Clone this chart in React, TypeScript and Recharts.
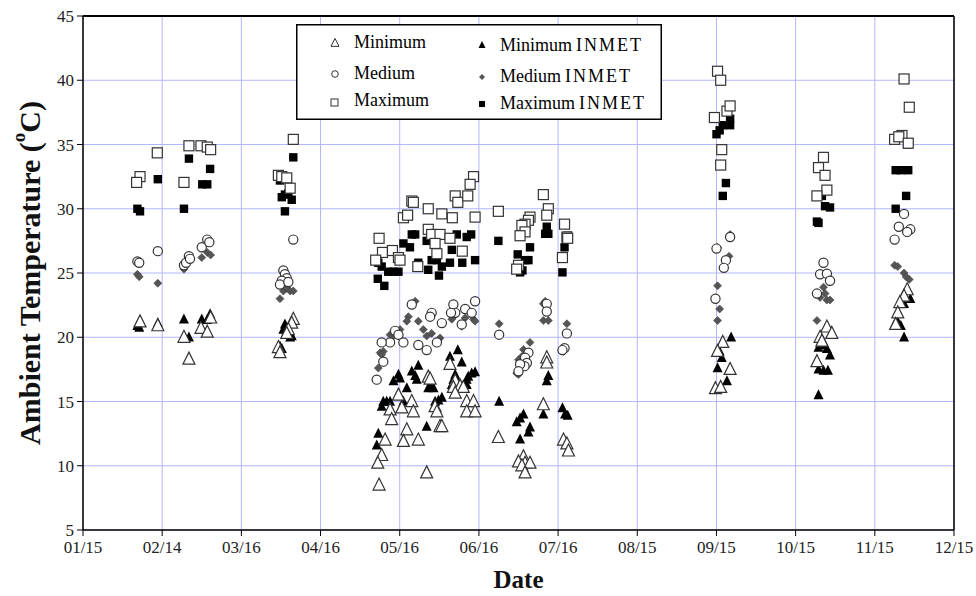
import React from "react";
import { ScatterChart, Scatter, XAxis, YAxis, CartesianGrid, Legend, Label, ReferenceLine } from "recharts";

// x = days after 01/15, y = temperature in °C
const TICK_LABELS = ["01/15", "02/14", "03/16", "04/16", "05/16", "06/16", "07/16", "08/15", "09/15", "10/15", "11/15", "12/15"];
const X_MAX = 333;
const X_TICKS = TICK_LABELS.map((_, i) => (i * X_MAX) / (TICK_LABELS.length - 1));
const Y_TICKS = [5, 10, 15, 20, 25, 30, 35, 40, 45];

const MINIMUM: [number, number][] = [
  [21.8, 21.2], [28.6, 20.9], [38.6, 20.0], [45.1, 20.7], [47.5, 20.4], [48.8, 21.5], [40.5, 18.3],
  [80.4, 21.4], [79.8, 21.1], [78.5, 20.6], [77.9, 20.3], [74.7, 19.2], [75.3, 18.8],
  [140.3, 17.9], [132.0, 16.9], [132.7, 16.75], [142.3, 16.6], [141.6, 16.1], [144.2, 16.2], [145.4, 16.1],
  [142.3, 15.65], [120.6, 15.5], [125.7, 15.0], [121.9, 14.5], [117.4, 14.35], [118.0, 13.6], [126.3, 14.2],
  [134.6, 14.6], [135.3, 14.2], [146.7, 15.0], [149.3, 15.0], [146.7, 14.2], [149.9, 14.2], [136.5, 13.05],
  [137.2, 13.05], [123.8, 12.8], [122.5, 11.9], [128.2, 12.0], [115.5, 12.0], [114.2, 10.8], [112.7, 10.2],
  [131.4, 9.45], [113.2, 8.5],
  [158.8, 12.2], [177.3, 18.4], [177.3, 18.0], [176.0, 14.75], [183.7, 12.0], [185.0, 11.7], [185.6, 11.15],
  [168.4, 10.7], [166.5, 10.3], [169.0, 10.2], [170.9, 10.2], [167.8, 10.0], [169.0, 9.45],
  [244.6, 19.6], [242.6, 18.9], [247.4, 17.5], [241.8, 16.0], [243.8, 16.1],
  [284.4, 20.8], [286.3, 20.3], [281.8, 20.0], [282.5, 19.7], [280.6, 18.1],
  [315.1, 23.7], [313.9, 23.2], [312.3, 22.7], [311.5, 21.9], [310.7, 21.0],
];

const MINIMUM_INMET: [number, number][] = [
  [20.8, 20.9], [21.5, 20.75], [28.6, 21.1], [38.6, 21.4], [40.5, 20.0], [45.4, 21.4], [47.5, 21.35], [48.6, 21.8],
  [77.2, 21.0], [76.6, 20.6], [79.8, 20.1], [79.2, 20.0], [75.3, 19.3], [76.0, 19.1],
  [143.3, 19.0], [144.8, 18.05], [140.3, 18.5], [128.2, 17.8], [125.7, 17.35], [127.0, 17.0], [127.6, 16.7],
  [120.6, 17.1], [118.7, 16.6], [121.2, 16.8], [123.8, 16.05], [132.7, 16.2], [134.0, 16.05], [132.0, 16.05],
  [142.3, 17.1], [141.6, 16.7], [141.0, 16.3], [143.5, 16.5], [146.7, 16.7], [147.3, 16.95], [148.6, 17.2],
  [149.9, 17.3], [146.7, 16.3], [114.8, 15.0], [116.1, 15.0], [117.4, 15.0], [114.2, 14.6], [122.5, 15.0],
  [134.6, 15.0], [135.9, 15.1], [137.2, 15.3], [131.4, 13.05], [112.9, 12.5], [112.3, 11.6],
  [159.1, 15.0], [177.9, 17.0], [177.3, 16.6], [176.0, 14.0], [168.4, 14.0], [167.1, 13.7], [165.8, 13.4],
  [170.9, 13.0], [170.3, 12.6], [167.1, 12.05], [183.3, 14.5], [184.3, 14.0], [185.3, 13.9],
  [247.8, 20.0], [243.4, 18.9], [244.2, 18.4], [242.6, 17.6], [246.2, 16.6],
  [281.2, 19.2], [283.1, 19.4], [284.4, 19.1], [285.6, 18.6], [281.2, 17.5], [283.1, 17.4], [284.8, 17.4], [281.2, 15.5],
  [316.3, 23.0], [313.9, 22.6], [310.3, 21.0], [312.7, 20.9], [313.9, 20.0], [311.5, 21.2],
];

const MEDIUM: [number, number][] = [
  [20.8, 25.9], [21.5, 25.8], [28.6, 26.7], [38.6, 25.6], [39.4, 25.8], [40.5, 26.3], [40.9, 26.1], [45.4, 27.0],
  [47.5, 27.6], [48.3, 27.4],
  [80.4, 27.6], [76.6, 25.2], [77.2, 24.9], [77.9, 24.6], [76.0, 24.4], [75.3, 24.1], [78.5, 24.3],
  [125.7, 22.55], [133.3, 21.9], [132.7, 21.6], [137.2, 21.1], [141.6, 22.55], [142.3, 21.9], [146.1, 22.2],
  [149.9, 22.8], [148.6, 21.9], [144.8, 21.0], [140.7, 21.9], [119.3, 20.5], [120.6, 20.2], [122.5, 19.6],
  [117.4, 19.6], [114.2, 19.6], [128.2, 19.4], [131.4, 19.0], [135.3, 19.6], [114.8, 18.1], [112.3, 16.7],
  [177.3, 22.6], [177.3, 22.0], [159.1, 20.2], [185.0, 20.3], [170.3, 18.8], [169.0, 18.4], [169.7, 18.0],
  [168.8, 17.75], [167.1, 17.9], [166.5, 17.35], [184.1, 19.15], [183.3, 19.0],
  [247.4, 27.8], [242.2, 26.9], [245.8, 26.0], [245.0, 25.4], [241.8, 23.0],
  [283.1, 25.8], [281.8, 24.9], [284.4, 24.95], [285.6, 24.4], [280.6, 23.4],
  [313.9, 29.6], [311.9, 28.6], [316.3, 28.4], [315.1, 28.2], [310.3, 27.6],
];

const MEDIUM_INMET: [number, number][] = [
  [20.8, 24.9], [21.5, 24.7], [28.6, 24.2], [38.6, 25.3], [40.5, 26.0], [45.4, 26.2], [47.5, 26.6], [48.8, 26.4],
  [76.6, 23.6], [77.9, 23.8], [79.2, 23.6], [80.4, 23.6], [75.3, 23.0],
  [127.0, 22.8], [128.2, 21.25], [124.4, 21.6], [123.8, 21.25], [130.1, 20.6], [131.4, 20.1], [133.3, 20.3],
  [117.4, 20.2], [118.7, 20.1], [121.2, 20.6], [113.6, 18.8], [114.8, 18.9], [114.2, 18.65], [112.9, 17.6],
  [136.5, 19.95], [135.9, 19.8], [144.8, 20.85], [146.1, 21.5], [148.0, 22.0], [149.3, 21.4], [149.9, 21.25],
  [141.6, 21.6], [141.0, 21.4],
  [176.7, 22.8], [176.0, 22.6], [176.0, 21.3], [177.9, 21.3], [159.1, 21.05], [185.0, 21.05], [170.9, 19.6],
  [168.4, 19.05], [169.7, 18.65], [167.8, 18.5], [166.5, 18.25], [165.8, 17.2], [166.5, 17.1], [183.7, 18.9],
  [247.4, 28.0], [242.6, 27.0], [247.0, 26.3], [242.6, 24.0], [243.4, 22.2], [242.6, 21.3],
  [283.1, 23.9], [283.7, 23.4], [281.8, 23.1], [284.4, 22.9], [285.6, 22.9], [280.6, 21.3],
  [310.3, 25.6], [311.5, 25.5], [313.9, 25.0], [314.7, 24.7], [315.9, 24.5],
];

const MAXIMUM: [number, number][] = [
  [28.4, 34.35], [21.8, 32.5], [20.5, 32.05], [40.5, 34.9], [45.1, 34.9], [47.5, 34.8], [48.8, 34.6], [38.6, 32.05],
  [80.4, 35.4], [74.7, 32.6], [76.0, 32.5], [77.9, 32.4], [79.2, 31.6],
  [149.3, 32.5], [148.0, 31.9], [142.3, 31.0], [143.3, 30.5], [147.1, 31.0], [125.7, 30.6], [126.3, 30.5],
  [132.0, 30.0], [122.5, 29.3], [124.1, 29.5], [137.2, 29.6], [141.2, 29.3], [149.9, 29.35], [113.2, 27.7],
  [132.0, 28.4], [133.3, 28.0], [136.5, 28.0], [134.6, 27.3], [140.3, 27.7], [114.5, 26.6], [118.3, 26.75],
  [111.9, 26.0], [120.6, 26.2], [121.2, 26.0], [135.3, 26.5], [145.0, 26.7], [128.0, 25.5],
  [158.8, 29.8], [176.0, 31.1], [177.9, 30.0], [177.3, 29.5], [170.9, 29.35], [170.3, 29.1], [169.0, 28.8],
  [167.8, 28.7], [169.0, 28.2], [167.1, 27.9], [184.1, 28.8], [185.0, 27.8], [185.3, 27.7], [183.3, 26.2],
  [166.5, 25.6], [165.8, 25.3],
  [242.6, 40.7], [243.8, 40.0], [241.4, 37.1], [246.2, 37.6], [247.4, 38.0], [244.2, 34.6], [243.8, 33.4],
  [283.1, 34.0], [281.2, 33.2], [283.7, 32.6], [284.4, 31.45], [280.6, 31.0],
  [313.9, 40.1], [315.9, 37.9], [313.1, 35.7], [310.3, 35.4], [311.9, 35.6], [315.5, 35.1],
];

const MAXIMUM_INMET: [number, number][] = [
  [20.8, 30.0], [21.8, 29.8], [28.6, 32.3], [40.5, 33.9], [38.6, 30.0], [48.6, 33.1], [45.6, 31.9], [47.5, 31.9],
  [80.4, 34.0], [75.3, 32.2], [76.0, 30.9], [77.2, 31.1], [78.5, 31.2], [79.8, 30.7], [77.2, 29.8],
  [127.0, 28.0], [125.7, 28.0], [131.4, 27.5], [122.5, 27.3], [125.0, 27.0], [142.9, 28.0], [146.7, 27.8],
  [148.4, 28.0], [141.0, 26.8], [112.9, 25.8], [114.2, 25.5], [116.7, 25.1], [118.7, 25.1], [120.6, 25.1],
  [128.2, 25.8], [133.3, 26.0], [135.3, 26.0], [137.2, 25.5], [132.0, 25.25], [140.3, 25.8], [145.0, 25.8],
  [149.9, 26.0], [112.7, 24.55], [115.2, 24.0], [136.1, 24.8],
  [158.8, 27.5], [177.3, 28.6], [176.7, 28.05], [177.9, 28.05], [170.9, 27.0], [185.3, 27.9], [184.1, 27.0],
  [166.2, 26.45], [169.0, 26.0], [170.3, 26.0], [167.1, 25.05], [168.0, 25.2], [183.3, 25.05],
  [242.2, 35.8], [243.4, 36.1], [244.6, 36.5], [247.4, 37.0], [247.4, 36.5], [245.8, 32.0], [244.6, 31.0],
  [282.5, 31.0], [283.7, 30.2], [285.6, 30.1], [280.6, 29.0], [281.2, 28.9],
  [310.7, 33.0], [312.7, 33.0], [315.5, 33.0], [314.7, 31.0], [310.7, 30.0], [315.1, 35.0],
];

const toPoints = (arr: [number, number][]) => arr.map(([x, y]) => ({ x, y }));

const FONT = "'Liberation Serif', 'Times New Roman', serif";

const triangle = (cx: number, cy: number, s: number) =>
  `M${cx},${cy - s * 0.58} L${cx + s / 2},${cy + s * 0.42} L${cx - s / 2},${cy + s * 0.42} Z`;
const diamond = (cx: number, cy: number, s: number) =>
  `M${cx},${cy - s / 2} L${cx + s / 2},${cy} L${cx},${cy + s / 2} L${cx - s / 2},${cy} Z`;

const OpenTriangle = (p: any) => <path d={triangle(p.cx, p.cy, 12)} fill="#fff" stroke="#333" strokeWidth={1.2} />;
const FilledTriangle = (p: any) => <path d={triangle(p.cx, p.cy, 10)} fill="#000" />;
const OpenCircle = (p: any) => <circle cx={p.cx} cy={p.cy} r={4.6} fill="#fff" stroke="#333" strokeWidth={1.2} />;
const GrayDiamond = (p: any) => <path d={diamond(p.cx, p.cy, 8)} fill="#555" stroke="#444" strokeWidth={0.6} />;
const OpenSquare = (p: any) => (
  <rect x={p.cx - 5} y={p.cy - 5} width={10} height={10} fill="#fff" stroke="#333" strokeWidth={1.2} />
);
const FilledSquare = (p: any) => <rect x={p.cx - 4.2} y={p.cy - 4.2} width={8.4} height={8.4} fill="#000" />;

const Inmet = () => (
  <tspan dx={4} letterSpacing={2}>
    INMET
  </tspan>
);

const LegendBox = () => (
  <svg width={366} height={96} style={{ display: "block" }}>
    <rect x={0.75} y={0.75} width={364.5} height={94.5} fill="#fff" stroke="#000" strokeWidth={1.5} />
    <g fontFamily={FONT} fontSize={18} fill="#000">
      <path d={triangle(39, 19, 8)} fill="#fff" stroke="#333" />
      <text x={58} y={18} dominantBaseline="central">Minimum</text>
      <circle cx={39} cy={50} r={3.3} fill="#fff" stroke="#333" />
      <text x={58} y={49} dominantBaseline="central">Medium</text>
      <rect x={35} y={75} width={7} height={7} fill="#fff" stroke="#333" />
      <text x={58} y={76} dominantBaseline="central">Maximum</text>
      <path d={triangle(186, 21, 7)} fill="#000" />
      <text x={204} y={21} dominantBaseline="central">Minimum<Inmet /></text>
      <path d={diamond(186, 53, 6)} fill="#555" />
      <text x={204} y={52} dominantBaseline="central">Medium<Inmet /></text>
      <rect x={183} y={77} width={6} height={6} fill="#000" />
      <text x={204} y={79} dominantBaseline="central">Maximum<Inmet /></text>
    </g>
  </svg>
);

const YTitle = (props: any) => {
  const vb = props.viewBox || {};
  const cx = 29;
  const cy = (vb.y ?? 16) + (vb.height ?? 514) / 2;
  return (
    <text
      x={cx}
      y={cy}
      transform={`rotate(-90 ${cx} ${cy})`}
      textAnchor="middle"
      dominantBaseline="central"
      fontFamily={FONT}
      fontWeight="bold"
      fontSize={30}
      fill="#111"
    >
      Ambient Temperature (<tspan dy={-11} fontSize={19}>o</tspan>
      <tspan dy={11}>C)</tspan>
    </text>
  );
};

const XTitle = (props: any) => {
  const vb = props.viewBox || {};
  const cx = (vb.x ?? 83) + (vb.width ?? 871) / 2;
  return (
    <text x={cx} y={579} textAnchor="middle" dominantBaseline="central" fontFamily={FONT} fontWeight="bold" fontSize={25} fill="#111">
      Date
    </text>
  );
};

export default function App() {
  const tickStyle = { fontFamily: FONT, fontSize: 17, fill: "#222" };
  return (
    <div style={{ position: "absolute", left: 0, top: 0, background: "#fff" }}>
      <ScatterChart width={976} height={596} margin={{ top: 16, right: 22, bottom: 0, left: 0 }}>
        <CartesianGrid stroke="#b4b4ff" strokeWidth={1} />
        <XAxis
          type="number"
          dataKey="x"
          domain={[0, X_MAX]}
          ticks={X_TICKS}
          interval={0}
          allowDataOverflow
          tickFormatter={(_v: number, i: number) => TICK_LABELS[i]}
          height={66}
          tick={tickStyle}
          tickSize={6}
          tickMargin={5}
          axisLine={{ stroke: "#000", strokeWidth: 1.5 }}
          tickLine={{ stroke: "#000" }}
        >
          <Label content={<XTitle />} />
        </XAxis>
        <YAxis
          type="number"
          dataKey="y"
          domain={[5, 45]}
          ticks={Y_TICKS}
          interval={0}
          allowDataOverflow
          width={83}
          tick={tickStyle}
          tickSize={6}
          tickMargin={3}
          axisLine={{ stroke: "#000", strokeWidth: 1.5 }}
          tickLine={{ stroke: "#000" }}
        >
          <Label content={<YTitle />} />
        </YAxis>
        <ReferenceLine y={45} stroke="#000" strokeWidth={2} />
        <ReferenceLine x={X_MAX} stroke="#000" strokeWidth={1.5} />
        <Legend
          layout="horizontal"
          verticalAlign="middle"
          align="center"
          content={<LegendBox />}
          wrapperStyle={{ left: 296, top: 24, width: 366, height: 96 }}
        />
        <Scatter name="Minimum INMET" data={toPoints(MINIMUM_INMET)} shape={FilledTriangle} isAnimationActive={false} />
        <Scatter name="Medium INMET" data={toPoints(MEDIUM_INMET)} shape={GrayDiamond} isAnimationActive={false} />
        <Scatter name="Maximum INMET" data={toPoints(MAXIMUM_INMET)} shape={FilledSquare} isAnimationActive={false} />
        <Scatter name="Minimum" data={toPoints(MINIMUM)} shape={OpenTriangle} isAnimationActive={false} />
        <Scatter name="Medium" data={toPoints(MEDIUM)} shape={OpenCircle} isAnimationActive={false} />
        <Scatter name="Maximum" data={toPoints(MAXIMUM)} shape={OpenSquare} isAnimationActive={false} />
      </ScatterChart>
    </div>
  );
}
